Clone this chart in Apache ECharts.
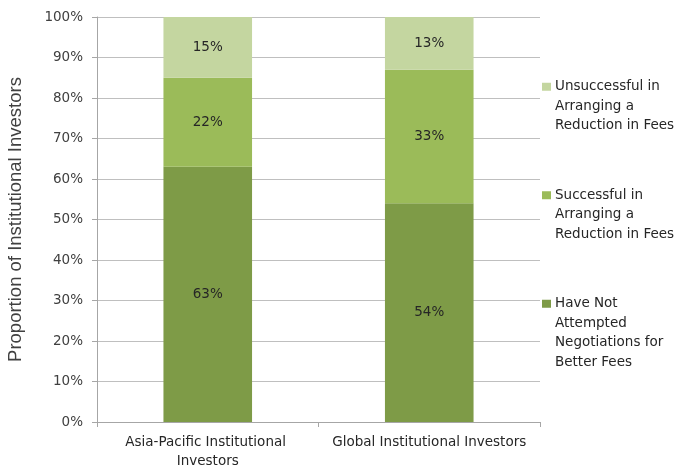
<!DOCTYPE html>
<html>
<head>
<meta charset="utf-8">
<script src="https://cdn.jsdelivr.net/npm/echarts@6/dist/echarts.min.js"></script>
<style>
  html, body { margin: 0; padding: 0; background: #ffffff; }
  #chart { width: 686px; height: 466px; }
</style>
</head>
<body>
<div id="chart"></div>
<script>
// Investor groups along the x axis
const categories = ['Asia-Pacific Institutional Investors', 'Global Institutional Investors'];

// Share of investors (%) in each outcome, stacked bottom to top
const notAttempted = [63, 54];
const successful = [22, 33];
const unsuccessful = [15, 13];

// Series names, with the line breaks used in the legend
const seriesNames = [
  'Have Not Attempted Negotiations for Better Fees',
  'Successful in Arranging a Reduction in Fees',
  'Unsuccessful in Arranging a Reduction in Fees'
];
const legendLines = {
  'Have Not Attempted Negotiations for Better Fees': ['Have Not', 'Attempted', 'Negotiations for', 'Better Fees'],
  'Successful in Arranging a Reduction in Fees': ['Successful in', 'Arranging a', 'Reduction in Fees'],
  'Unsuccessful in Arranging a Reduction in Fees': ['Unsuccessful in', 'Arranging a', 'Reduction in Fees']
};

const colors = ['#7e9b47', '#9bbb59', '#c4d6a0'];
const seriesData = [notAttempted, successful, unsuccessful];
const FONT = 'DejaVu Sans';
const FS = 13.5;

const chart = echarts.init(document.getElementById('chart'), null, { renderer: 'canvas' });

const rich = {
  sp: { width: 9, height: 8 },
  t: { fontFamily: FONT, fontSize: FS, color: '#262626', padding: [0, 0, 0, 4], lineHeight: 19.5 }
};
seriesNames.forEach((n, i) => {
  rich['sq' + i] = { width: 9, height: 8, backgroundColor: colors[i] };
});

chart.setOption({
  animation: false,
  grid: { left: 97, right: 146, top: 17, bottom: 44, containLabel: false, outerBoundsMode: 'none' },
  legend: {
    orient: 'vertical',
    left: 532,
    top: 72,
    itemWidth: 0,
    itemHeight: 0,
    itemGap: 50,
    selectedMode: false,
    data: [seriesNames[2], seriesNames[1], seriesNames[0]],
    formatter: function (name) {
      const idx = seriesNames.indexOf(name);
      return legendLines[name]
        .map((l, i) => (i === 0 ? '{sq' + idx + '|}' : '{sp|}') + '{t|' + l + '}')
        .join('\n');
    },
    textStyle: { rich: rich, lineHeight: 19.5 }
  },
  xAxis: {
    type: 'category',
    data: categories,
    axisLine: { lineStyle: { color: '#a6a6a6', width: 1 } },
    axisTick: { show: true, length: 5, lineStyle: { color: '#a6a6a6' } },
    axisLabel: {
      interval: 0,
      fontFamily: FONT,
      fontSize: FS,
      color: '#262626',
      margin: 11,
      lineHeight: 19,
      width: 215,
      overflow: 'break'
    }
  },
  yAxis: {
    type: 'value',
    min: 0,
    max: 100,
    interval: 10,
    name: 'Proportion of Institutional Investors',
    nameLocation: 'middle',
    nameGap: 72,
    nameTextStyle: { fontFamily: 'Liberation Sans', fontSize: 18.5, color: '#404040' },
    axisLine: { show: true, lineStyle: { color: '#a6a6a6', width: 1 } },
    axisTick: { show: true, length: 5, lineStyle: { color: '#a6a6a6' } },
    axisLabel: {
      formatter: '{value}%',
      fontFamily: FONT,
      fontSize: FS,
      color: '#404040',
      margin: 14
    },
    splitLine: { show: true, lineStyle: { color: '#bfbfbf', width: 1 } }
  },
  series: seriesNames.map((name, i) => ({
    name: name,
    type: 'bar',
    stack: 'total',
    barWidth: '40%',
    data: seriesData[i],
    itemStyle: { color: colors[i] },
    label: {
      show: true,
      position: 'inside',
      formatter: '{c}%',
      fontFamily: FONT,
      fontSize: FS,
      color: '#262626'
    }
  }))
});
</script>
</body>
</html>
